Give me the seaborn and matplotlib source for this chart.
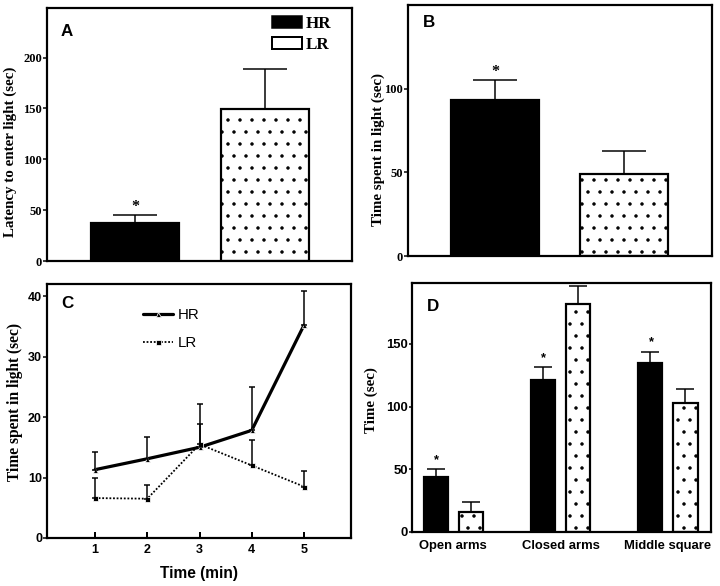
import numpy as np
import pandas as pd
import matplotlib
matplotlib.use("Agg")
import matplotlib.pyplot as plt
from matplotlib.patches import Patch
import seaborn as sns

# ---- data ----
groups = ["HR", "LR"]

latency = [37.6, 149.0]
latency_sem = [7.5, 40.0]

light_time = [93.4, 49.0]
light_time_sem = [11.6, 13.8]

minutes = [1, 2, 3, 4, 5]
hr_minute = [11.3, 13.1, 15.0, 17.8, 35.2]
hr_minute_sem = [3.0, 3.6, 7.2, 7.2, 5.6]
lr_minute = [6.6, 6.5, 15.5, 12.0, 8.5]
lr_minute_sem = [3.4, 2.3, 3.4, 4.2, 2.5]

areas = ["Open arms", "Closed arms", "Middle square"]
hr_maze = [43.8, 120.8, 135.1]
hr_maze_sem = [6.6, 10.6, 8.7]
lr_maze = [15.6, 181.8, 103.2]
lr_maze_sem = [8.0, 14.4, 10.9]

SERIF = "Liberation Serif"
SANS = "Liberation Sans"
colors = {"HR": "black", "LR": "white"}

sns.set_style("ticks", {"axes.edgecolor": "black", "text.color": "black",
                        "xtick.color": "black", "ytick.color": "black",
                        "axes.labelcolor": "black"})
plt.rcParams["font.family"] = SANS
plt.rcParams["hatch.linewidth"] = 1.0

DPI = 72
fig = plt.figure(figsize=(720 / DPI, 586 / DPI), dpi=DPI)


def box(x0, y0, x1, y1):
    return [x0 / 720, 1 - y1 / 586, (x1 - x0) / 720, (y1 - y0) / 586]


ax_a = fig.add_axes(box(47, 8, 352, 261))
ax_b = fig.add_axes(box(408, 5, 712, 256))
ax_c = fig.add_axes(box(47, 284, 351, 538))
ax_d = fig.add_axes(box(412, 283, 711, 532))


def style_axes(ax, tick_family, tick_size):
    for s in ax.spines.values():
        s.set_visible(True)
        s.set_linewidth(2.2)
        s.set_color("black")
    for lbl in ax.get_xticklabels() + ax.get_yticklabels():
        lbl.set_fontfamily(tick_family)
        lbl.set_fontweight("bold")
        lbl.set_fontsize(tick_size)


def finish_bars(ax, sems_per_hue, capsize, star_family, star_size, star_offset):
    for i, (container, sems) in enumerate(zip(ax.containers, sems_per_hue)):
        for bar, e in zip(container, sems):
            bar.set_edgecolor("black")
            bar.set_linewidth(2.2)
            if i == 1:
                bar.set_hatch(".")
            x = bar.get_x() + bar.get_width() / 2
            h = bar.get_height()
            ax.errorbar([x], [h], yerr=[[0], [e]], fmt="none", ecolor="black",
                        elinewidth=1.5, capsize=capsize, capthick=1.5, zorder=5)
            if i == 0:
                ax.annotate("*", xy=(x, h + e), xytext=(0, star_offset),
                            textcoords="offset points", ha="center", va="baseline",
                            fontfamily=star_family, fontweight="bold", fontsize=star_size)


def panel_letter(ax, letter, x, y):
    ax.text(x, y, letter, transform=ax.transAxes, ha="left", va="top",
            fontfamily=SANS, fontweight="bold", fontsize=17)


# ---- A ----
df_a = pd.DataFrame({"group": groups, "value": latency})
sns.barplot(data=df_a, x="group", y="value", hue="group", palette=colors,
            width=0.68, saturation=1, legend=False, ax=ax_a)
finish_bars(ax_a, [[latency_sem[0]], [latency_sem[1]]], 22, SERIF, 16, 4)
ax_a.set_xlim(-0.677, 1.67)
ax_a.set_ylim(0, 248.7)
ax_a.set_yticks([0, 50, 100, 150, 200])
ax_a.set_xlabel("")
ax_a.set_ylabel("Latency to enter light (sec)", fontfamily=SERIF,
                fontweight="bold", fontsize=15)
ax_a.yaxis.set_label_coords(-0.097, 0.43)
ax_a.tick_params(axis="x", length=0, labelbottom=False)
ax_a.tick_params(axis="y", direction="out", length=4, width=1.5, pad=1)
style_axes(ax_a, SERIF, 12.5)
panel_letter(ax_a, "A", 0.043, 0.937)
leg_handles = [Patch(facecolor="black", edgecolor="black", linewidth=1.5),
               Patch(facecolor="white", edgecolor="black", linewidth=2)]
ax_a.legend(leg_handles, groups, loc="upper left", bbox_to_anchor=(0.738, 0.968),
            frameon=False, prop={"family": SERIF, "weight": "bold", "size": 17},
            handlelength=1.75, handleheight=0.7, handletextpad=0.2,
            labelspacing=0.3, borderpad=0, borderaxespad=0)

# ---- B ----
df_b = pd.DataFrame({"group": groups, "value": light_time})
sns.barplot(data=df_b, x="group", y="value", hue="group", palette=colors,
            width=0.68, saturation=1, legend=False, ax=ax_b)
finish_bars(ax_b, [[light_time_sem[0]], [light_time_sem[1]]], 22, SERIF, 16, 4)
ax_b.set_xlim(-0.672, 1.676)
ax_b.set_ylim(0, 150)
ax_b.set_yticks([0, 50, 100])
ax_b.set_xlabel("")
ax_b.set_ylabel("Time spent in light (sec)", fontfamily=SERIF,
                fontweight="bold", fontsize=15)
ax_b.yaxis.set_label_coords(-0.076, 0.424)
ax_b.tick_params(axis="x", length=0, labelbottom=False)
ax_b.tick_params(axis="y", direction="out", length=4, width=1.5, pad=1)
style_axes(ax_b, SERIF, 12.5)
panel_letter(ax_b, "B", 0.049, 0.96)

# ---- C ----
sns.lineplot(x=minutes, y=hr_minute, ax=ax_c, color="black", linewidth=3.2,
             marker="^", markersize=5, label="HR")
sns.lineplot(x=minutes, y=lr_minute, ax=ax_c, color="black", linewidth=1.8,
             linestyle=(0, (1, 1)), marker="s", markersize=5, label="LR")
ax_c.errorbar(minutes, hr_minute, yerr=[np.zeros(len(minutes)), hr_minute_sem],
              fmt="none", ecolor="black", elinewidth=1.5, capsize=3, capthick=1.5)
ax_c.errorbar(minutes, lr_minute, yerr=[np.zeros(len(minutes)), lr_minute_sem],
              fmt="none", ecolor="black", elinewidth=1.5, capsize=3, capthick=1.5)
ax_c.set_xlim(0.08, 5.9)
ax_c.set_ylim(0, 42)
ax_c.set_xticks(minutes)
ax_c.set_yticks([0, 10, 20, 30, 40])
ax_c.set_xlabel("Time (min)", fontfamily=SANS, fontweight="bold", fontsize=15.5)
ax_c.xaxis.set_label_coords(0.5, -0.11)
ax_c.set_ylabel("Time spent in light (sec)", fontfamily=SERIF,
                fontweight="bold", fontsize=15.5)
ax_c.yaxis.set_label_coords(-0.079, 0.537)
ax_c.tick_params(axis="x", direction="in", length=6, width=2, pad=6)
ax_c.tick_params(axis="y", direction="out", length=4, width=1.5, pad=1)
style_axes(ax_c, SANS, 12.5)
panel_letter(ax_c, "C", 0.046, 0.953)
ax_c.legend(loc="upper left", bbox_to_anchor=(0.316, 0.906), frameon=False,
            prop={"family": SANS, "size": 15}, handlelength=2.0,
            handletextpad=0.3, labelspacing=0.95, borderpad=0, borderaxespad=0)

# ---- D ----
df_d = pd.DataFrame({
    "area": areas * 2,
    "group": ["HR"] * len(areas) + ["LR"] * len(areas),
    "value": hr_maze + lr_maze,
})
sns.barplot(data=df_d, x="area", y="value", hue="group", palette=colors,
            width=0.66, gap=0.32, saturation=1, legend=False, ax=ax_d)
finish_bars(ax_d, [hr_maze_sem, lr_maze_sem], 9, SANS, 13, 6)
ax_d.set_xlim(-0.385, 2.403)
ax_d.set_ylim(0, 198.5)
ax_d.set_yticks([0, 50, 100, 150])
ax_d.set_xlabel("")
ax_d.set_ylabel("Time (sec)", fontfamily=SERIF, fontweight="bold", fontsize=15)
ax_d.yaxis.set_label_coords(-0.114, 0.53)
ax_d.tick_params(axis="x", length=0, pad=8)
ax_d.tick_params(axis="y", direction="out", length=3, width=1.5, pad=1)
style_axes(ax_d, SANS, 13)
panel_letter(ax_d, "D", 0.05, 0.936)

fig.savefig("out.png", dpi=DPI)
